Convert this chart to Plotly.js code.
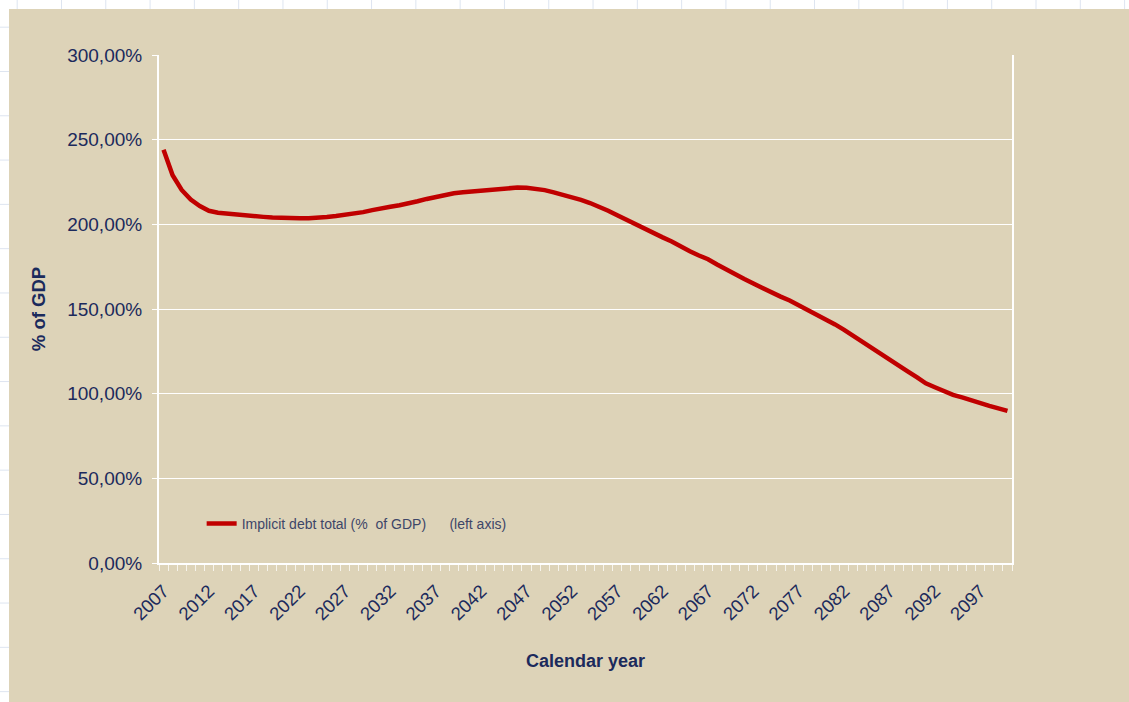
<!DOCTYPE html>
<html>
<head>
<meta charset="utf-8">
<script src="https://cdn.plot.ly/plotly-3.0.1.min.js"></script>
<style>
  html, body { margin: 0; padding: 0; width: 1129px; height: 702px; overflow: hidden; }
  body {
    background-color: #ffffff;
    background-image: linear-gradient(to right, #dde4f0 1px, transparent 1px),
                      linear-gradient(to bottom, #dde4f0 1px, transparent 1px);
    background-size: 44.3px 44.3px;
    background-position: 16.7px 26.7px;
  }
  #chart { position: absolute; left: 9px; top: 9px; width: 1120px; height: 693px; }
</style>
</head>
<body>
<div id="chart"></div>
<script>
const years = [2007,2008,2009,2010,2011,2012,2013,2014,2015,2016,2017,2018,2019,2020,2021,2022,2023,2024,2025,2026,
  2027,2028,2029,2030,2031,2032,2033,2034,2035,2036,2037,2038,2039,2040,2041,2042,2043,2044,2045,2046,
  2047,2048,2049,2050,2051,2052,2053,2054,2055,2056,2057,2058,2059,2060,2061,2062,2063,2064,2065,2066,
  2067,2068,2069,2070,2071,2072,2073,2074,2075,2076,2077,2078,2079,2080,2081,2082,2083,2084,2085,2086,
  2087,2088,2089,2090,2091,2092,2093,2094,2095,2096,2097,2098,2099,2100];

const implicitDebt = [244.0,229.0,220.3,214.6,210.8,208.0,206.9,206.3,205.7,205.3,204.9,204.4,204.0,203.7,203.6,203.6,203.6,203.8,204.3,204.9,
  205.5,206.1,207.2,208.4,209.6,210.4,211.3,212.3,213.6,215.0,216.3,217.4,218.4,219.0,219.5,219.9,220.3,221.2,221.5,221.7,
  221.6,221.0,220.2,218.9,217.6,216.0,214.4,212.6,210.5,208.0,205.3,202.6,199.9,197.2,194.7,192.3,189.9,186.8,184.1,181.6,
  179.4,176.3,173.2,170.4,167.7,165.0,162.3,159.6,157.3,155.0,152.2,149.4,146.8,144.1,140.9,137.7,134.1,130.6,126.9,123.2,
  119.8,116.5,113.2,109.7,106.1,103.8,101.5,99.3,97.8,96.0,94.2,92.8,91.3,89.8];

const seriesName = 'Implicit debt total (%\u00A0 of GDP)\u00A0\u00A0\u00A0\u00A0\u00A0 (left axis)';

const xTickVals = [2007,2012,2017,2022,2027,2032,2037,2042,2047,2052,2057,2062,2067,2072,2077,2082,2087,2092,2097];
const xTickText = ['2007','2012','2017','2022','2027','2032','2037','2042','2047','2052','2057','2062','2067','2072','2077','2082','2087','2092','2097'];
const yTickVals = [0,50,100,150,200,250,300];
const yTickText = ['0,00%','50,00%','100,00%','150,00%','200,00%','250,00%','300,00%'];

const navy = '#1b2a5c';
const bg = '#ddd3b8';
const fam = 'Liberation Sans, Arial, sans-serif';

const trace = {
  x: years,
  y: implicitDebt,
  type: 'scatter',
  mode: 'lines',
  name: seriesName,
  line: { color: '#c00000', width: 4.5 },
  showlegend: true
};

const layout = {
  width: 1120,
  height: 693,
  paper_bgcolor: bg,
  plot_bgcolor: bg,
  margin: { l: 150, r: 117, t: 46, b: 139 },
  font: { family: fam, color: navy },
  showlegend: true,
  legend: {
    x: 0.05, y: 0.077, xanchor: 'left', yanchor: 'middle',
    bgcolor: 'rgba(0,0,0,0)',
    font: { size: 14, color: '#3d4668', family: fam }
  },
  xaxis: {
    type: 'linear',
    range: [2006.5, 2100.5],
    tickmode: 'array',
    tickvals: xTickVals,
    ticktext: xTickText,
    tickangle: -45,
    ticks: '',
    ticklabelstandoff: 8,
    showgrid: false,
    zeroline: false,
    showline: true,
    linecolor: '#ffffff',
    linewidth: 2,
    tickfont: { size: 18.5, color: navy },
    minor: { tick0: 2006.5, dtick: 1, ticks: 'outside', ticklen: 6, tickcolor: '#f7f4ec', tickwidth: 1, showgrid: false },
    title: { text: 'Calendar year', font: { size: 18, color: navy, family: fam, weight: 'bold' }, standoff: 31 },
    automargin: true
  },
  yaxis: {
    range: [0, 300],
    tickmode: 'array',
    tickvals: yTickVals,
    ticktext: yTickText,
    ticks: 'outside',
    ticklen: 5,
    tickcolor: '#ffffff',
    tickwidth: 1,
    showgrid: true,
    gridcolor: '#ffffff',
    gridwidth: 1,
    zeroline: false,
    showline: true,
    mirror: true,
    linecolor: '#ffffff',
    linewidth: 2,
    tickfont: { size: 19, color: navy },
    ticklabelstandoff: 6,
    title: { text: '% of GDP', font: { size: 18.5, color: navy, family: fam, weight: 'bold' }, standoff: 17 },
    automargin: true
  }
};

Plotly.newPlot('chart', [trace], layout, { displayModeBar: false, staticPlot: true });
</script>
</body>
</html>
